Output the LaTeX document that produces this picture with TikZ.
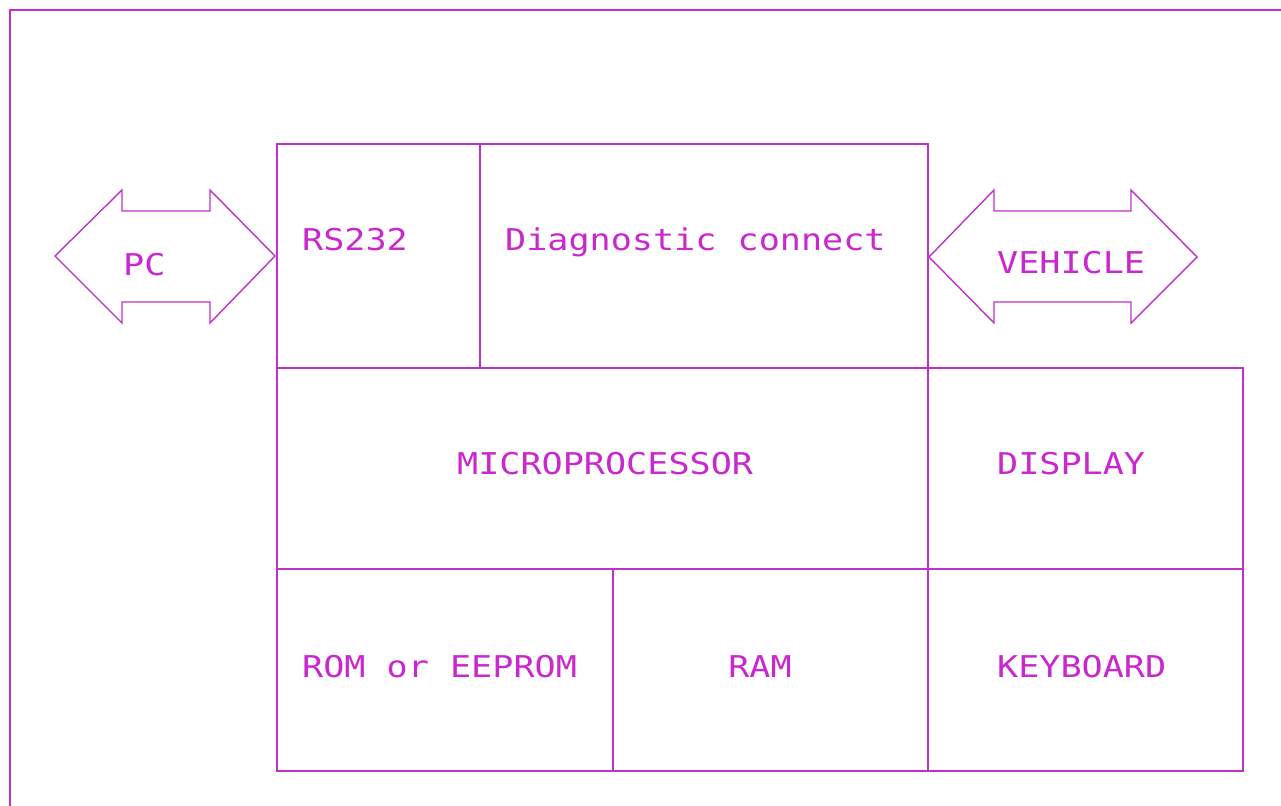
\documentclass[tikz,border=0pt]{standalone}
\usepackage{fontspec}
\newfontfamily\diagfont[FakeStretch=1.17]{DejaVu Sans Mono}
\definecolor{mag}{RGB}{190,50,200}
\definecolor{magtext}{RGB}{200,40,205}
\begin{document}
\begin{tikzpicture}[x=1bp,y=-1bp,
  line/.style={draw=mag,line width=1.8bp},
  lbl/.style={inner sep=0pt,text=magtext,font=\diagfont\fontsize{30bp}{32bp}\selectfont},
  lw/.style={lbl,anchor=base west},
  lc/.style={lbl,anchor=base}]
\useasboundingbox (0,0) rectangle (1281,806);
\fill[white] (0,0) rectangle (1281,806);
% outer frame (runs off the right and bottom)
\draw[line] (10,820) -- (10,10) -- (1295,10);
% top row
\draw[line] (277,144) rectangle (928,368);
\draw[line] (480,144) -- (480,368);
% middle row
\draw[line] (277,368) rectangle (928,569);
\draw[line] (928,368) rectangle (1243,569);
% bottom row
\draw[line] (277,569) rectangle (1243,771);
\draw[line] (613,569) -- (613,771);
\draw[line] (928,569) -- (928,771);
% PC arrow
\draw[line,line width=1.4bp,line join=miter] (55,256) -- (122,190) -- (122,211) -- (210,211) -- (210,190) -- (275,256)
  -- (210,323) -- (210,302) -- (122,302) -- (122,323) -- cycle;
% VEHICLE arrow
\draw[line,line width=1.4bp,line join=miter] (929,257) -- (994,190) -- (994,211) -- (1131,211) -- (1131,190) -- (1197,257)
  -- (1131,323) -- (1131,302) -- (994,302) -- (994,323) -- cycle;
% labels
\node[lw] (pc) at (123,275) {PC};
\node[lw] (rs) at (302,250) {RS232};
\node[lw] (diag) at (505,250) {Diagnostic connect};
\node[lw] (veh) at (997,273) {VEHICLE};
\node[lw] (mp) at (457,474) {MICROPROCESSOR};
\node[lw] (disp) at (997,474) {DISPLAY};
\node[lw] (rom) at (302,677) {ROM or EEPROM};
\node[lc] (ram) at (760,677) {RAM};
\node[lw] (kb) at (997,677) {KEYBOARD};
\end{tikzpicture}
\end{document}
